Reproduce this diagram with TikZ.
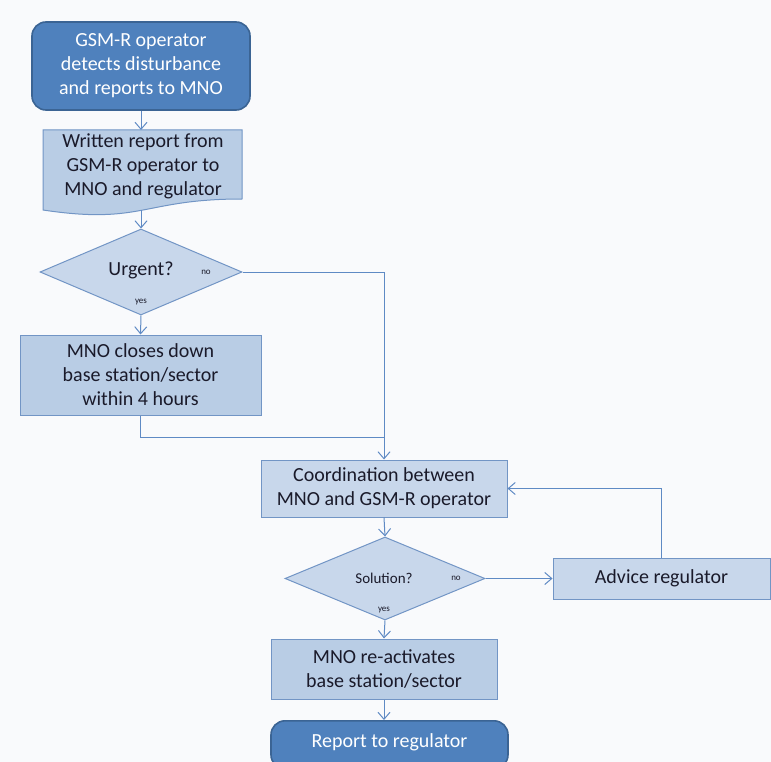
\documentclass[tikz,border=0pt]{standalone}
\usepackage{fontspec}
\setmainfont{Carlito}
\usetikzlibrary{shapes.geometric,arrows.meta}
\definecolor{bgc}{HTML}{F9FAFC}
\definecolor{darkfill}{HTML}{4F81BD}
\definecolor{darkline}{HTML}{3B6494}
\definecolor{procfill}{HTML}{B9CDE5}
\definecolor{lightfill}{HTML}{C8D7EB}
\definecolor{boxline}{HTML}{7295C5}
\definecolor{conn}{HTML}{5F8AC4}
\definecolor{txt}{HTML}{1A1A2A}
\tikzset{
  x=1pt,y=-1pt,
  every node/.style={font=\fontsize{20}{24}\selectfont, text=txt, align=center},
  termbox/.style={draw=darkline, line width=1.6pt, fill=darkfill, rounded corners=14pt, text=white, inner sep=0pt},
  procbox/.style={draw=boxline, line width=1pt, fill=procfill, inner sep=0pt},
  lightbox/.style={draw=boxline, line width=1pt, fill=lightfill, inner sep=0pt},
  decbox/.style={diamond, draw=boxline, line width=1pt, fill=lightfill, inner sep=0pt},
  smalllabel/.style={font=\fontsize{9}{10}\selectfont, text=txt},
  conline/.style={draw=conn, line width=1pt},
  conarrow/.style={conline, -{Straight Barb[length=7pt,width=12pt,line width=1pt]}},
}
\begin{document}
\begin{tikzpicture}
\fill[bgc] (0,0) rectangle (771,762);
\useasboundingbox (0,0) rectangle (771,762);

% start terminator
\node[termbox, minimum width=218pt, minimum height=88pt] (start) at (141,66)
  {GSM-R operator\\detects disturbance\\and reports to MNO};

% document shape
\path[draw=boxline, line width=1pt, fill=procfill]
  (43,130) -- (242,130) -- (242,199) .. controls (142.5,199) and (142.5,225) .. (43,210) -- cycle;
\coordinate (doctop) at (141,130);
\coordinate (docbot) at (141,210);
\node (doctext) at (143,166) {Written report from\\GSM-R operator to\\MNO and regulator};

% urgent decision
\node[decbox, minimum width=202pt, minimum height=86pt] (urgent) at (141,272) {};
\node (urgenttext) at (141,270) {Urgent?};
\node[smalllabel] (urgentno) at (206,272) {no};
\node[smalllabel] (urgentyes) at (141,302) {yes};

% closes down box
\node[procbox, minimum width=241pt, minimum height=80pt] (closes) at (140.5,375)
  {MNO closes down\\base station/sector\\within 4 hours};

% coordination box
\node[lightbox, minimum width=246pt, minimum height=57pt] (coord) at (384,488.5)
  {Coordination between\\MNO and GSM-R operator};

% solution decision
\node[decbox, minimum width=200pt, minimum height=83pt] (sol) at (385,578.5) {};
\node (soltext) at (384,578) {\fontsize{15}{18}\selectfont Solution?};
\node[smalllabel] (solno) at (456,578) {no};
\node[smalllabel] (solyes) at (384,610) {yes};

% advice box
\node[lightbox, minimum width=217pt, minimum height=41pt] (advice) at (661.5,578.5)
  {Advice regulator};

% re-activates box
\node[procbox, minimum width=226pt, minimum height=60pt] (react) at (384,669)
  {MNO re-activates\\base station/sector};

% report terminator
\node[termbox, minimum width=237pt, minimum height=48pt, anchor=north] (report) at (389.5,720) {};
\node[text=white] (reporttext) at (389.5,742) {Report to regulator};

% connectors
\coordinate (join) at (384,437);
\draw[conarrow] (start.south) -- (doctop);
\draw[conarrow] (docbot) -- (urgent.north);
\draw[conarrow] (urgent.south) -- (closes.north);
\draw[conarrow] (urgent.east) -| (coord.north);
\draw[conline] (closes.south) |- (join);
\draw[conarrow] (coord.south) -- (sol.north);
\draw[conarrow] (sol.east) -- (advice.west);
\draw[conarrow] (advice.north) |- (coord.east);
\draw[conarrow] (sol.south) -- (react.north);
\draw[conarrow] (react.south) -- (react.south |- report.north);
\end{tikzpicture}
\end{document}
